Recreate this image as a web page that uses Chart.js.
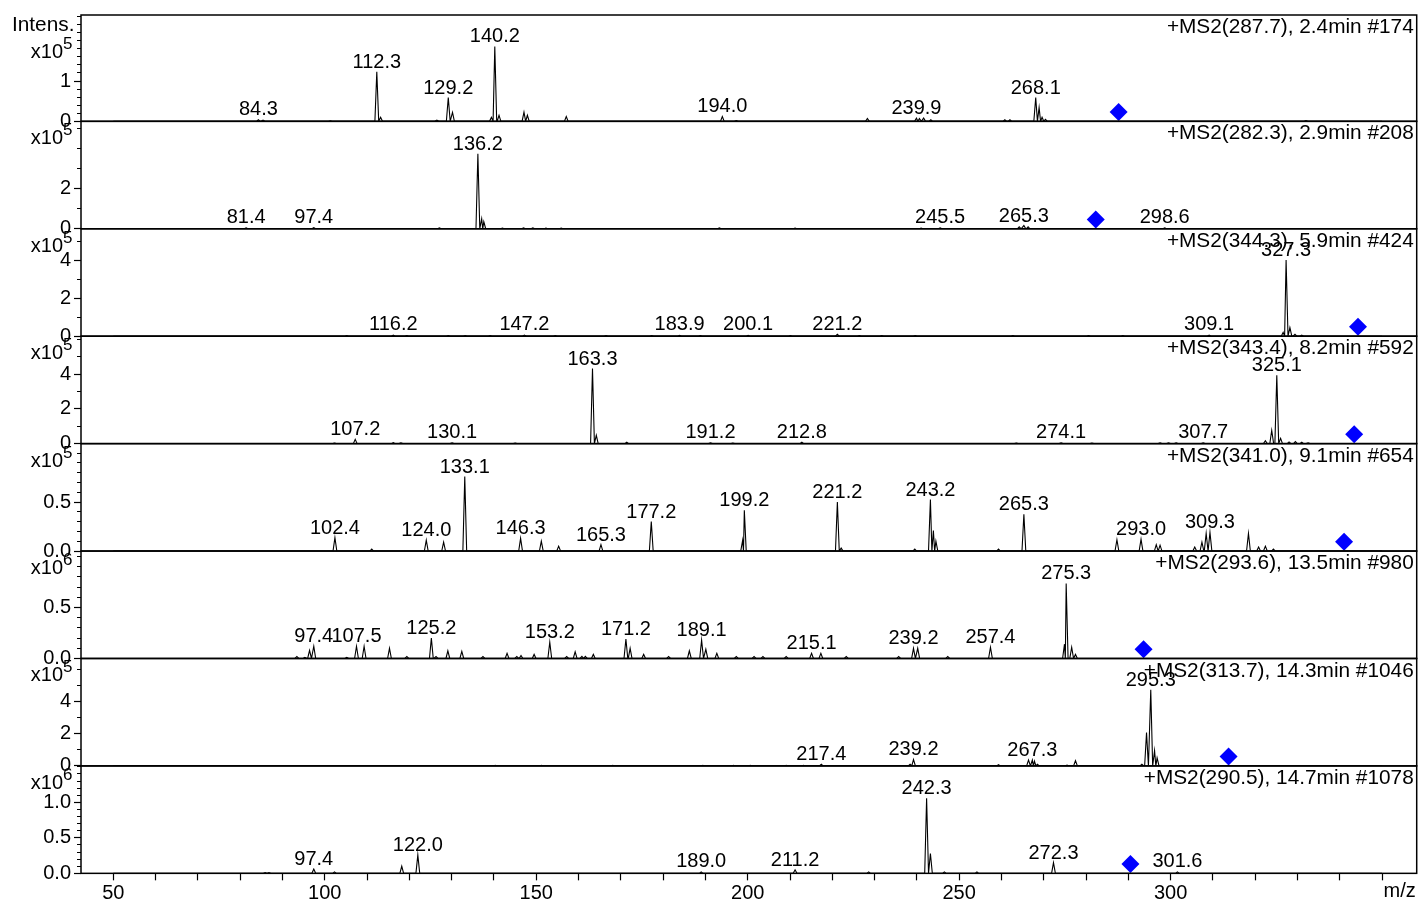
<!DOCTYPE html>
<html>
<head>
<meta charset="utf-8">
<title>MS2 spectra</title>
<script src="https://cdn.jsdelivr.net/npm/chart.js@4.4.1/dist/chart.umd.min.js"></script>
<style>
  body { margin: 0; background: #fff; }
  #wrap { position: relative; width: 1419px; height: 901px; }
  #wrap canvas { position: absolute; left: 0; top: 0; }
</style>
</head>
<body>
<div id="wrap"></div>
<script>
// scan headers and precursor m/z (blue diamonds)
const titles = [
  "+MS2(287.7), 2.4min #174",
  "+MS2(282.3), 2.9min #208",
  "+MS2(344.3), 5.9min #424",
  "+MS2(343.4), 8.2min #592",
  "+MS2(341.0), 9.1min #654",
  "+MS2(293.6), 13.5min #980",
  "+MS2(313.7), 14.3min #1046",
  "+MS2(290.5), 14.7min #1078"
];
const precursors = [287.7, 282.3, 344.3, 343.4, 341.0, 293.6, 313.7, 290.5];
const diamondY = [0.23, 0.465, 0.49, 0.54, 0.095, 0.091, 0.58, 0.131];

// intensity axes (units of x10^n)
const exponents = [5, 5, 5, 5, 5, 6, 5, 6];
const yMax = [2.64, 5.37, 5.65, 6.2, 1.096, 1.053, 6.68, 1.513];
const yTicks = [
  [0, 0.2, 0.4, 0.6, 0.8, 1, 1.2, 1.4, 1.6, 1.8, 2, 2.2, 2.4, 2.6],
  [0, 1, 2, 3, 4, 5],
  [0, 1, 2, 3, 4, 5],
  [0, 1, 2, 3, 4, 5, 6],
  [0, 0.1, 0.2, 0.3, 0.4, 0.5, 0.6, 0.7, 0.8, 0.9, 1.0],
  [0, 0.1, 0.2, 0.3, 0.4, 0.5, 0.6, 0.7, 0.8, 0.9, 1.0],
  [0, 1, 2, 3, 4, 5, 6],
  [0, 0.1, 0.2, 0.3, 0.4, 0.5, 0.6, 0.7, 0.8, 0.9, 1.0, 1.1, 1.2, 1.3, 1.4, 1.5]
];
const yLabels = [[0, 1], [0, 2], [0, 2, 4], [0, 2, 4], [0, 0.5], [0, 0.5], [0, 2, 4], [0, 0.5, 1]];
const yDigits = [0, 0, 0, 0, 1, 1, 0, 1];

// m/z axis
const xTicks = [50, 60, 70, 80, 90, 100, 110, 120, 130, 140, 150, 160, 170, 180, 190, 200,
  210, 220, 230, 240, 250, 260, 270, 280, 290, 300, 310, 320, 330, 340, 350];
const xLabels = [50, 100, 150, 200, 250, 300];

// peaks per scan
const mz1 = [84.3, 85.4, 101.3, 112.3, 113.2, 126.5, 129.2, 130.2, 139.4, 140.2, 141.2, 147.1, 147.9, 157.1,
  194.0, 197.3, 228.3, 239.9, 240.6, 241.6, 243.3, 260.8, 262.0, 268.1, 268.9, 269.6, 270.4, 332.0];
const int1 = [0.04, 0.03, 0.01, 1.23, 0.1, 0.03, 0.59, 0.22, 0.1, 1.86, 0.15, 0.23, 0.15, 0.12,
  0.12, 0.02, 0.07, 0.08, 0.07, 0.08, 0.04, 0.04, 0.04, 0.59, 0.34, 0.1, 0.05, 0.02];
const lab1 = [84.3, 112.3, 129.2, 140.2, 194.0, 239.9, 268.1];

const mz2 = [81.4, 97.4, 127.1, 136.2, 137.1, 137.6, 142.0, 147.0, 149.2, 152.3, 155.9, 193.3, 211.2,
  241.0, 245.5, 264.2, 265.3, 266.3, 298.6];
const int2 = [0.05, 0.06, 0.04, 3.75, 0.5, 0.35, 0.03, 0.04, 0.04, 0.03, 0.03, 0.04, 0.03,
  0.03, 0.05, 0.1, 0.16, 0.1, 0.05];
const lab2 = [81.4, 97.4, 136.2, 245.5, 265.3, 298.6];

const mz3 = [105.2, 116.2, 119.4, 129.2, 133.2, 139.1, 147.2, 154.5, 166.5, 177.3, 183.9, 188.8, 200.1,
  210.1, 221.2, 226.4, 231.7, 239.6, 262.7, 280.6, 288.7, 309.1, 326.6, 327.3, 328.2, 329.4, 331.0];
const int3 = [0.03, 0.05, 0.03, 0.03, 0.03, 0.03, 0.06, 0.03, 0.03, 0.03, 0.04, 0.03, 0.04,
  0.03, 0.1, 0.03, 0.03, 0.03, 0.03, 0.03, 0.03, 0.05, 0.2, 4.0, 0.45, 0.1, 0.05];
const lab3 = [116.2, 147.2, 183.9, 200.1, 221.2, 309.1, 327.3];

const mz4 = [102.3, 107.2, 116.2, 118.0, 130.1, 145.0, 163.3, 164.2, 171.4, 191.2, 196.5, 212.8,
  263.5, 274.1, 281.4, 297.5, 299.5, 301.3, 307.7, 322.4, 323.9, 325.1, 326.0, 328.0, 329.5, 331.0, 332.5];
const int4 = [0.03, 0.25, 0.06, 0.04, 0.05, 0.03, 4.33, 0.48, 0.08, 0.04, 0.03, 0.08,
  0.03, 0.05, 0.03, 0.04, 0.05, 0.04, 0.05, 0.17, 0.77, 3.94, 0.3, 0.1, 0.12, 0.08, 0.05];
const lab4 = [107.2, 130.1, 163.3, 191.2, 212.8, 274.1, 307.7, 325.1];

const mz5 = [102.4, 111.1, 124.0, 128.1, 133.1, 146.3, 151.2, 155.3, 165.3, 177.2, 198.8, 199.2,
  221.2, 222.1, 239.5, 243.2, 243.9, 244.5, 259.3, 265.3, 287.3, 293.0, 296.6, 297.5, 305.7, 307.4,
  308.4, 309.3, 318.4, 320.8, 322.4, 324.3];
const int5 = [0.137, 0.02, 0.11, 0.09, 0.76, 0.13, 0.10, 0.05, 0.065, 0.30, 0.11, 0.415,
  0.50, 0.03, 0.02, 0.525, 0.21, 0.1, 0.02, 0.375, 0.115, 0.12, 0.065, 0.06, 0.04, 0.09,
  0.18, 0.19, 0.18, 0.04, 0.05, 0.02];
const lab5 = [102.4, 124.0, 133.1, 146.3, 165.3, 177.2, 199.2, 221.2, 243.2, 265.3, 293.0, 309.3];

const mz6 = [93.4, 95.3, 96.4, 97.4, 105.2, 107.5, 109.3, 115.3, 119.4, 125.2, 126.3, 129.1, 132.4,
  137.4, 143.1, 145.4, 146.4, 149.5, 153.2, 157.2, 159.2, 160.8, 161.6, 163.5, 171.2, 172.2, 175.4,
  181.3, 186.2, 189.1, 190.1, 192.7, 197.3, 201.5, 203.6, 209.1, 215.1, 217.3, 223.3, 235.7, 239.2,
  240.2, 247.3, 257.4, 274.9, 275.3, 276.6, 277.5];
const int6 = [0.02, 0.01, 0.08, 0.12, 0.01, 0.12, 0.12, 0.10, 0.02, 0.20, 0.02, 0.075, 0.07,
  0.02, 0.05, 0.02, 0.03, 0.04, 0.16, 0.02, 0.065, 0.02, 0.02, 0.04, 0.19, 0.10, 0.04,
  0.02, 0.075, 0.18, 0.09, 0.05, 0.02, 0.02, 0.02, 0.02, 0.05, 0.05, 0.02, 0.02, 0.10,
  0.10, 0.02, 0.11, 0.14, 0.735, 0.11, 0.04];
const lab6 = [97.4, 107.5, 125.2, 153.2, 171.2, 189.1, 215.1, 239.2, 257.4, 275.3];

const mz7 = [140.3, 151.2, 168.1, 189.4, 196.6, 200.6, 209.1, 213.2, 217.4, 238.4, 239.2, 259.3,
  266.4, 267.3, 267.8, 268.5, 275.5, 277.5, 293.2, 294.3, 295.3, 296.2, 296.8];
const int7 = [0.03, 0.03, 0.03, 0.03, 0.03, 0.03, 0.03, 0.03, 0.1, 0.1, 0.4, 0.08,
  0.37, 0.37, 0.3, 0.1, 0.05, 0.33, 0.1, 2.07, 4.73, 0.95, 0.5];
const lab7 = [217.4, 239.2, 267.3, 295.3];

const mz8 = [85.9, 86.8, 97.4, 102.3, 118.2, 122.0, 189.0, 211.2, 228.6, 242.3, 243.2, 246.5, 254.2,
  272.3, 301.6];
const int8 = [0.01, 0.01, 0.06, 0.02, 0.10, 0.26, 0.02, 0.05, 0.02, 1.056, 0.28, 0.02, 0.02,
  0.15, 0.02];
const lab8 = [97.4, 122.0, 189.0, 211.2, 242.3, 272.3, 301.6];

const peakMz = [mz1, mz2, mz3, mz4, mz5, mz6, mz7, mz8];
const peakInt = [int1, int2, int3, int4, int5, int6, int7, int8];
const peakLabels = [lab1, lab2, lab3, lab4, lab5, lab6, lab7, lab8];

// layout
const W = 1419, H = 901;
const TOP0 = 13.9, PANEL_H = 107.43;
const AXIS_W = 81, RIGHT_PAD = 2.3;
const XMIN = 42.36, XMAX = 358.18;
const FONT = "'Liberation Sans', Arial, sans-serif";

// profile trace: each centroid becomes a narrow peak on a zero baseline (scan range 50-350)
function buildTrace(mz, inten) {
  const hw = 0.45;
  const pts = [{x: 50, y: 0}];
  mz.forEach((m, k) => {
    const lo = k > 0 ? Math.max(m - hw, (mz[k - 1] + m) / 2) : m - hw;
    const hi = k < mz.length - 1 ? Math.min(m + hw, (m + mz[k + 1]) / 2) : m + hw;
    pts.push({x: lo, y: 0}, {x: m, y: inten[k]}, {x: hi, y: 0});
  });
  pts.push({x: 350, y: 0});
  return pts;
}

function isMajor(i, v) {
  return yLabels[i].some(l => Math.abs(l - v) < 1e-6);
}

const panelDecor = {
  id: 'panelDecor',
  afterDatasetsDraw(chart, args, opts) {
    const i = opts.index;
    const {ctx, chartArea: a} = chart;
    const x = chart.scales.x, y = chart.scales.y;
    ctx.save();
    ctx.strokeStyle = '#000';
    ctx.lineWidth = 1.5;
    ctx.strokeRect(a.left, a.top, a.right - a.left, a.bottom - a.top);

    ctx.fillStyle = '#000';
    // peak m/z labels
    ctx.font = '20px ' + FONT;
    ctx.textAlign = 'center';
    ctx.textBaseline = 'alphabetic';
    peakLabels[i].forEach(m => {
      const k = peakMz[i].indexOf(m);
      const top = y.getPixelForValue(peakInt[i][k]);
      ctx.fillText(m.toFixed(1), x.getPixelForValue(m), Math.min(top - 4, a.bottom - 6));
    });

    // scan header
    ctx.textAlign = 'right';
    ctx.textBaseline = 'top';
    ctx.font = '20.8px ' + FONT;
    ctx.fillText(titles[i], a.right - 3, a.top + 2);

    // intensity multiplier
    ctx.textBaseline = 'alphabetic';
    const base = i === 0 ? a.top + 42.7 : a.top + 23;
    ctx.font = '20px ' + FONT;
    ctx.textAlign = 'right';
    ctx.fillText('x10', 63, base);
    ctx.font = '17px ' + FONT;
    ctx.textAlign = 'left';
    ctx.fillText(String(exponents[i]), 63, base - 9);
    if (i === 0) {
      ctx.font = '20.8px ' + FONT;
      ctx.fillText('Intens.', 12, a.top + 16);
    }
    if (i === 7) {
      ctx.font = '20px ' + FONT;
      ctx.textAlign = 'right';
      ctx.textBaseline = 'top';
      ctx.fillText('m/z', a.right - 1, a.bottom + 8);
    }
    ctx.restore();
  }
};

const wrap = document.getElementById('wrap');

for (let i = 0; i < 8; i++) {
  const cv = document.createElement('canvas');
  cv.width = W;
  cv.height = H;
  wrap.appendChild(cv);

  const top = TOP0 + i * PANEL_H;
  const bottom = top + PANEL_H;
  const last = i === 7;

  new Chart(cv, {
    type: 'scatter',
    data: {
      datasets: [
        {
          data: buildTrace(peakMz[i], peakInt[i]),
          showLine: true,
          borderColor: '#000',
          borderWidth: 1.1,
          pointRadius: 0
        },
        {
          data: [{x: precursors[i], y: diamondY[i]}],
          pointStyle: 'rectRot',
          pointRadius: 9,
          backgroundColor: '#0000ff',
          borderColor: '#0000ff',
          borderWidth: 0
        }
      ]
    },
    options: {
      responsive: false,
      animation: false,
      events: [],
      layout: {
        autoPadding: false,
        padding: { top: top, bottom: last ? 0 : H - bottom, left: 0, right: RIGHT_PAD }
      },
      plugins: {
        legend: { display: false },
        tooltip: { enabled: false },
        panelDecor: { index: i }
      },
      scales: {
        x: {
          type: 'linear',
          min: XMIN,
          max: XMAX,
          display: last,
          afterBuildTicks: s => { s.ticks = xTicks.map(v => ({value: v})); },
          afterFit: s => { s.height = last ? H - bottom : 0; },
          border: { display: false },
          grid: { drawOnChartArea: false, tickLength: 7, tickColor: '#000', tickWidth: 1.2 },
          ticks: {
            autoSkip: false,
            maxRotation: 0,
            padding: 1,
            color: '#000',
            font: { family: FONT, size: 20 },
            callback: v => xLabels.includes(v) ? String(v) : ''
          }
        },
        y: {
          type: 'linear',
          min: 0,
          max: yMax[i],
          afterBuildTicks: s => { s.ticks = yTicks[i].map(v => ({value: v})); },
          afterFit: s => { s.width = AXIS_W; },
          border: { display: false },
          grid: {
            drawOnChartArea: false,
            tickLength: 7,
            tickColor: '#000',
            tickWidth: 1.2,
            tickBorderDash: c => (c.tick && !isMajor(i, c.tick.value)) ? [0, 3, 4, 20] : []
          },
          ticks: {
            autoSkip: false,
            padding: 3,
            color: '#000',
            font: { family: FONT, size: 20 },
            callback: v => isMajor(i, v) ? v.toFixed(yDigits[i]) : ''
          }
        }
      }
    },
    plugins: [panelDecor]
  });
}
</script>
</body>
</html>
